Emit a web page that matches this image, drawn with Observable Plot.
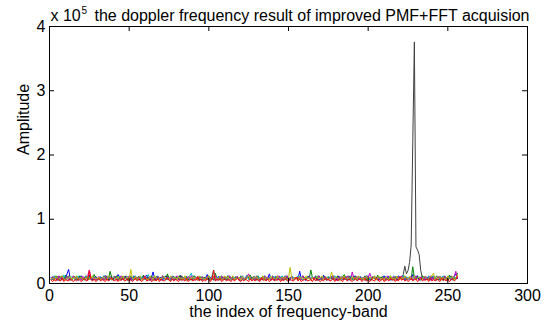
<!DOCTYPE html>
<html><head><meta charset="utf-8">
<script src="https://cdn.jsdelivr.net/npm/d3@7"></script>
<script src="https://cdn.jsdelivr.net/npm/@observablehq/plot@0.6"></script>
<style>body{margin:0;background:#fff} svg{display:block}</style>
</head><body><div id="chart"></div>
<script>
// amplitudes in units of 1000 (0.01 x 10^5), index 1..256
const blue = [9,6,11,8,5,10,7,12,6,9,15,22,8,6,10,7, 11,5,9,12,7,6,10,8,13,7,5,9,11,6,8,10, 7,12,6,9,5,11,8,7,10,6,14,9,5,8,11,7, 6,10,9,5,12,7,8,11,6,9,7,10,13,8,5,9, 18,7,6,11,8,10,5,9,12,6,7,11,8,5,10,9, 6,13,7,8,11,5,9,10,6,12,7,8,5,11,9,6, 10,7,14,8,6,9,12,5,7,11,8,6,10,9,7,12, 5,8,11,6,9,10,7,5,12,8,6,11,9,7,10,6, 8,12,5,9,7,11,6,10,8,15,7,9,5,11,6,8, 10,7,9,12,6,8,5,11,9,7,10,6,19,8,11,7, 5,9,12,6,10,8,7,11,5,9,6,13,8,10,7,9, 11,6,8,5,12,9,7,10,6,11,8,5,9,7,12,10, 6,8,11,7,9,5,10,12,6,8,7,11,9,5,10,8, 7,12,6,9,11,5,8,10,7,6,12,9,8,11,5,10, 9,7,6,14,8,10,12,5,9,7,11,6,8,10,5,9, 12,7,8,6,11,9,5,10,7,8,12,6,9,11,15,8];
const green = [7,10,6,12,8,5,11,9,6,13,7,10,8,5,9,11, 6,8,12,7,5,10,9,6,11,8,7,14,9,6,10,5, 8,11,7,9,6,19,10,5,8,12,7,9,6,11,8,10, 5,9,12,6,10,7,8,11,5,9,13,7,10,6,8,12, 7,5,11,9,8,6,12,10,7,15,8,5,9,11,6,10, 8,12,6,9,7,11,5,10,8,6,12,9,7,5,11,8, 10,6,9,12,7,8,5,16,9,6,11,7,10,8,5,12, 9,7,11,6,8,10,5,12,7,9,6,11,8,13,7,10, 6,9,12,5,8,11,7,10,6,9,5,12,8,7,11,9, 5,10,8,6,12,7,9,11,6,8,10,5,9,7,12,6, 8,11,7,21,9,6,10,5,12,8,7,11,9,6,10,8, 7,12,6,9,11,5,8,10,14,7,9,6,11,8,5,12, 9,6,10,8,7,12,5,11,9,6,8,10,7,13,6,9, 11,5,8,10,7,12,6,9,8,11,5,10,7,9,12,6, 8,10,7,26,9,6,11,8,5,12,7,9,10,6,8,11, 7,9,12,6,10,8,5,11,9,7,13,6,8,10,7,16];
const red = [5,3,6,4,7,5,4,8,3,6,5,4,7,5,3,6, 4,7,5,3,6,8,4,5,20,6,4,7,3,5,8,4, 6,5,3,7,4,6,9,5,4,7,3,6,5,8,4,5, 7,4,6,3,5,8,4,7,5,3,6,10,4,5,7,3, 5,6,4,8,3,7,5,4,6,9,5,3,7,4,6,5, 3,7,5,6,4,8,3,5,7,4,6,5,11,4,7,3, 6,4,8,5,3,7,21,4,6,5,8,3,5,7,4,6, 5,3,7,4,6,8,5,3,6,4,7,5,3,8,4,6, 4,7,5,3,9,5,6,4,7,3,5,8,4,6,5,7, 3,6,4,8,5,3,7,5,4,6,10,4,7,3,5,6, 7,4,5,6,3,8,4,7,5,3,6,4,8,5,7,4, 5,8,3,6,4,7,5,3,9,6,4,7,5,3,6,8, 4,6,7,3,5,8,4,6,3,7,5,4,8,6,3,5, 7,3,5,6,4,8,5,7,3,6,4,11,5,7,4,6, 3,5,8,4,6,7,3,5,9,4,6,5,7,3,8,4, 6,4,7,5,3,8,5,6,4,7,3,5,8,4,6,11];
const cyan = [10,7,12,8,6,11,9,5,13,8,6,10,7,11,9,6, 8,12,6,9,7,5,11,8,10,6,12,7,9,5,8,11, 6,9,13,7,10,8,5,11,7,9,6,12,8,10,5,9, 11,7,8,6,10,12,5,9,7,11,8,6,10,14,7,9, 5,10,8,12,6,9,7,11,5,8,10,6,12,7,9,8, 11,6,9,7,5,10,8,12,16,7,9,6,11,8,5,10, 7,9,6,11,8,12,21,7,10,5,9,8,6,11,7,9, 12,5,8,10,6,9,7,11,8,5,10,13,6,9,7,8, 10,6,11,7,9,5,12,8,6,10,7,9,11,5,8,6, 9,12,7,8,5,10,6,11,9,7,8,12,6,10,5,9, 7,10,8,6,11,5,9,12,7,8,6,10,9,5,11,7, 8,6,12,9,7,10,5,8,11,6,9,7,12,8,5,10, 6,11,7,9,8,5,12,10,6,9,7,11,8,6,10,5, 9,8,11,6,10,7,5,12,8,9,6,11,7,13,6,8, 10,5,9,7,12,6,8,11,5,10,7,9,6,12,8,7, 11,8,6,10,5,9,12,7,8,6,11,9,5,10,7,8];
const magenta = [8,11,6,9,5,12,7,10,6,8,11,5,9,7,12,6, 10,7,9,5,11,8,6,12,21,9,7,10,5,8,11,6, 9,5,12,7,8,10,6,9,11,5,8,7,12,6,10,8, 7,12,5,9,6,11,8,10,5,7,9,12,6,8,11,5, 10,6,8,11,7,5,12,9,6,10,8,7,11,5,9,12, 6,8,10,5,9,7,11,6,12,8,5,10,7,9,6,11, 8,5,11,7,10,6,9,12,5,8,7,11,6,10,9,5, 12,7,9,6,8,11,5,10,7,9,6,12,15,8,5,10, 6,11,8,5,9,7,12,6,10,8,5,11,7,9,6,12, 9,5,10,7,12,6,8,11,5,9,7,10,8,6,12,7, 5,9,11,6,8,10,7,5,12,9,6,8,11,7,5,10, 8,12,6,9,5,11,7,10,8,6,12,9,5,18,8,7, 11,6,9,7,10,5,12,8,16,9,7,11,6,10,5,8, 7,10,5,12,8,6,9,11,7,5,10,8,12,6,9,7, 6,9,11,5,8,12,7,6,10,9,5,11,8,7,12,6, 10,5,8,11,6,9,7,12,5,10,8,6,9,11,19,8];
const yellow = [7,9,5,11,8,6,10,12,7,5,9,8,11,6,10,7, 12,6,8,10,5,9,7,11,6,8,12,5,9,7,10,6, 8,11,7,5,12,9,6,10,8,7,11,5,9,12,6,8, 10,5,22,8,7,11,6,9,12,5,8,10,7,6,11,9, 6,12,8,5,10,7,9,11,6,8,5,12,9,7,10,6, 11,7,9,6,12,5,8,10,7,11,6,9,5,12,8,7, 9,6,10,12,5,8,11,7,9,6,10,5,8,12,7,11, 5,8,12,6,9,7,10,5,11,8,6,9,12,7,5,10, 8,11,6,9,7,12,5,10,8,6,11,7,9,5,12,8, 6,10,7,11,5,8,25,9,6,10,7,5,11,8,9,6, 12,7,9,5,10,6,8,11,7,9,12,5,8,10,6,7, 18,9,6,11,8,5,10,7,12,6,9,8,5,11,7,10, 6,12,8,7,9,5,11,6,10,8,7,12,5,9,11,6, 9,5,10,8,6,12,7,9,5,11,8,6,10,7,12,8, 7,11,6,9,12,5,8,10,7,6,11,9,5,8,10,12, 16,6,9,7,11,5,10,8,6,12,7,9,11,5,8,13];
const black = [6,9,5,8,11,7,5,10,8,6,9,12,5,7,10,6, 8,5,11,7,6,9,12,5,8,10,6,7,11,5,9,8, 10,6,8,12,5,7,9,6,11,8,5,10,7,9,6,12, 5,9,7,10,6,11,8,5,9,7,12,6,8,10,5,9, 7,11,6,8,9,5,10,7,6,12,8,5,9,11,7,6, 9,5,12,7,8,10,6,9,5,11,7,8,6,10,9,5, 8,10,6,9,5,7,11,8,6,9,5,12,7,6,10,8, 6,7,9,5,11,8,6,10,7,5,9,8,12,6,7,11, 10,5,8,7,6,9,11,5,8,10,6,7,9,5,12,7, 7,9,6,11,8,5,7,10,6,9,8,5,11,7,6,10, 5,8,10,6,9,7,12,5,8,6,10,9,7,5,11,8, 9,6,7,10,5,8,11,6,9,7,5,12,8,6,10,7, 6,11,8,5,9,7,6,10,8,5,11,7,9,6,8,10, 8,5,9,7,6,10,8,5,11,7,6,8,9,14,27,15, 20,33,60,220,376,57,52,45,20,9,7,10,6,8,11,6, 9,7,5,10,8,6,11,7,9,5,8,12,6,7,9,8];

const seriesNames = ["k","b","g","c","m","y","r"];
const seriesValues = [black, blue, green, cyan, magenta, yellow, red];
const seriesColors = ["#404040","#0000ff","#008000","#00bfbf","#bf00bf","#bfbf00","#ff0000"];
const xTicks = [0,50,100,150,200,250,300];
const yTicks = [0,1,2,3,4];
const titleText = "the doppler frequency result of improved PMF+FFT acquision";
const xLabel = "the index of frequency-band";
const yLabel = "Amplitude";
const expBase = "x 10";
const expPow = "5";

const W = 548, H = 327, mL = 49, mR = 21, mT = 26, mB = 44;
const plotW = W - mL - mR, plotH = H - mT - mB;
const tick = 5;
const ty = tick / plotH * 4, tx = tick / plotW * 300;
const font = "Liberation Sans, Arial, Helvetica, sans-serif";
const fs = 16;

const lines = seriesNames.map((n, s) =>
  Plot.line(seriesValues[s].map((v, i) => ({i: i + 1, v: v / 100})),
    {x: "i", y: "v", stroke: seriesColors[s], strokeWidth: 1, curve: "linear"}));

const chart = Plot.plot({
  width: W, height: H,
  marginLeft: mL, marginRight: mR, marginTop: mT, marginBottom: mB,
  style: {fontFamily: font, fontSize: fs + "px", color: "#000", background: "#fff"},
  x: {domain: [0, 300]},
  y: {domain: [0, 4]},
  marks: [
    ...lines,
    Plot.frame({stroke: "#000", strokeWidth: 1}),
    Plot.ruleX(xTicks, {x: d => d, y1: 0, y2: ty, stroke: "#000"}),
    Plot.ruleX(xTicks, {x: d => d, y1: 4, y2: 4 - ty, stroke: "#000"}),
    Plot.ruleY(yTicks, {y: d => d, x1: 0, x2: tx, stroke: "#000"}),
    Plot.ruleY(yTicks, {y: d => d, x1: 300, x2: 300 - tx, stroke: "#000"}),
    Plot.axisX(xTicks, {tickSize: 0, tickPadding: 6, label: null, fontSize: fs, fill: "#000", tickFormat: "d"}),
    Plot.axisY(yTicks, {tickSize: 0, tickPadding: 4, label: null, fontSize: fs, fill: "#000", tickFormat: "d"}),
    Plot.text([xLabel], {text: d => d, frameAnchor: "bottom", dy: 33, fontSize: fs, fill: "#000"}),
    Plot.text([yLabel], {text: d => d, frameAnchor: "left", dx: -26, rotate: -90, fontSize: fs, fill: "#000"}),
    Plot.text([expBase], {text: d => d, frameAnchor: "top-left", textAnchor: "start", lineAnchor: "bottom", dy: -6, dx: 1, fontSize: fs, fill: "#000"}),
    Plot.text([expPow], {text: d => d, frameAnchor: "top-left", textAnchor: "start", lineAnchor: "bottom", dy: -13, dx: 32, fontSize: 10, fill: "#000"}),
    Plot.text([titleText], {text: d => d, frameAnchor: "top-right", textAnchor: "end", lineAnchor: "bottom", dy: -6, dx: 2, fontSize: fs, fill: "#000"})
  ]
});
document.getElementById("chart").appendChild(chart);
</script>
</body></html>
